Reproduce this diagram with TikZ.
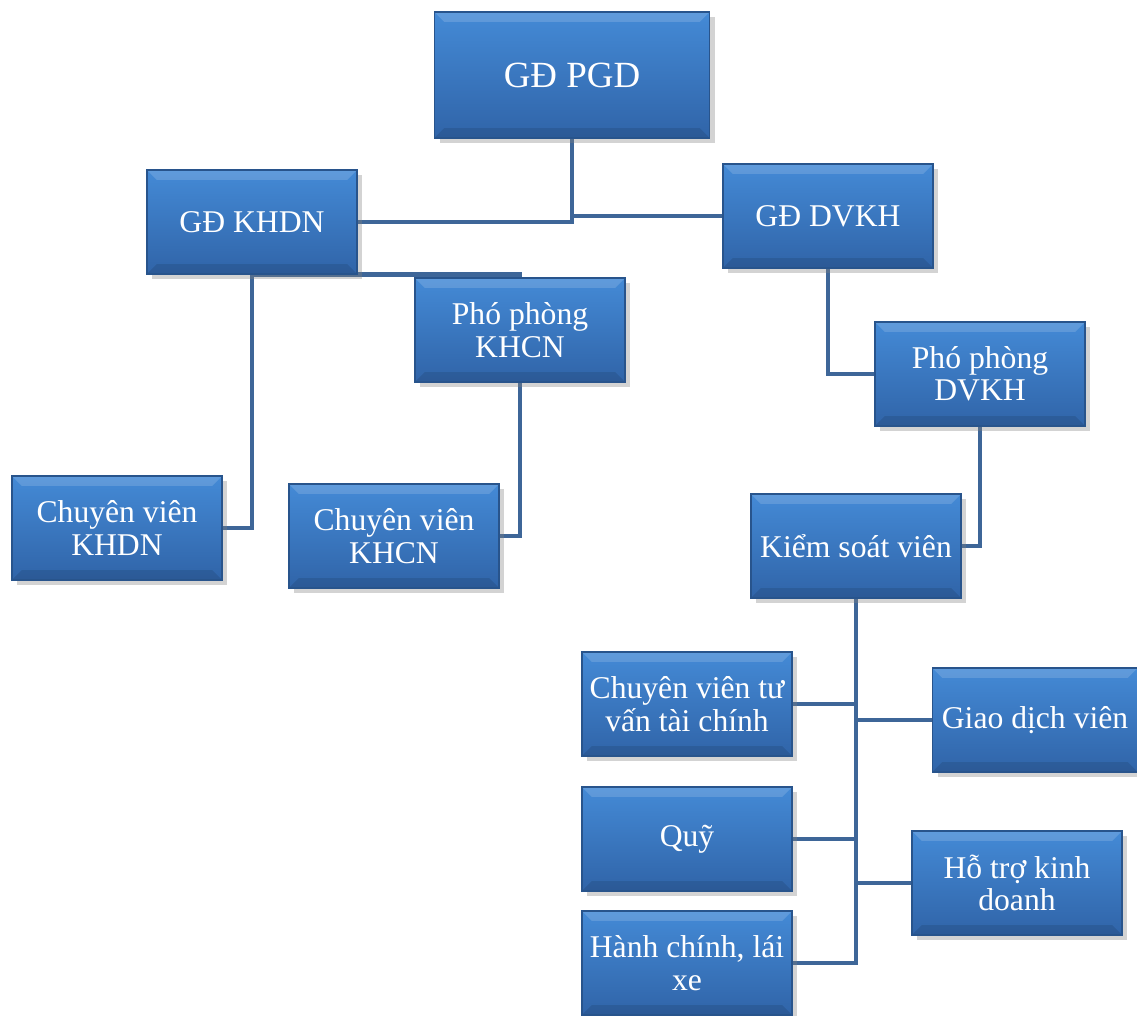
\documentclass[tikz,border=0pt]{standalone}
\usepackage{fontspec}
\setmainfont{Liberation Serif}
\usetikzlibrary{positioning, shadows, backgrounds}
\definecolor{boxtop}{RGB}{68,138,214}
\definecolor{boxbot}{RGB}{48,100,168}
\definecolor{boxedge}{RGB}{40,84,140}
\definecolor{linkblue}{RGB}{62,102,152}

\tikzset{
  unit/.style={rectangle, draw=boxedge, line width=0.4pt, top color=boxtop, bottom color=boxbot,
    minimum width=2.1cm, minimum height=1.04cm, inner sep=1pt, align=center, text=white,
    font=\fontsize{9}{9.2}\selectfont,
    drop shadow={opacity=0.35, shadow xshift=1.5pt, shadow yshift=-1.5pt},
    path picture={
      % bevel: light top band, dark bottom band
      \fill[white, opacity=0.15] (path picture bounding box.north west) -- (path picture bounding box.north east)
        -- ([xshift=-1mm, yshift=-1mm]path picture bounding box.north east)
        -- ([xshift=1mm, yshift=-1mm]path picture bounding box.north west) -- cycle;
      \fill[black, opacity=0.1] (path picture bounding box.south west) -- (path picture bounding box.south east)
        -- ([xshift=-1mm, yshift=1mm]path picture bounding box.south east)
        -- ([xshift=1mm, yshift=1mm]path picture bounding box.south west) -- cycle;
    }},
  link/.style={draw=linkblue, line width=1.4pt}
}

\begin{document}
\begin{tikzpicture}[x=0.01cm, y=-0.01cm]
    \useasboundingbox (0,0) rectangle (1137,1016);
    % top level
    \node[unit, minimum width=2.75cm, minimum height=1.26cm, font=\fontsize{10.5}{11}\selectfont] (pgd) at (572,75) {GĐ PGD};
    \node[unit] (khdn) at (252,222) {GĐ KHDN};
    \node[unit] (dvkh) at (828,216) {GĐ DVKH};
    % second level
    \node[unit] (ppkhcn) at (520,330) {Phó phòng\\KHCN};
    \node[unit] (ppdvkh) at (980,374) {Phó phòng\\DVKH};
    \node[unit] (cvkhdn) at (117,528) {Chuyên viên\\KHDN};
    \node[unit] (cvkhcn) at (394,536) {Chuyên viên\\KHCN};
    \node[unit] (ksv) at (856,546) {Kiểm soát viên};
    % staff under ksv
    \node[unit] (cvtv) at (687,704) {Chuyên viên tư\\vấn tài chính};
    \node[unit, minimum width=2.05cm] (gdv) at (1035,720) {Giao dịch viên};
    \node[unit] (quy) at (687,839) {Quỹ};
    \node[unit] (htkd) at (1017,883) {Hỗ trợ kinh\\doanh};
    \node[unit] (hc) at (687,963) {Hành chính, lái\\xe};

    % connectors
    \begin{scope}[on background layer]
      \draw[link] (pgd.south) |- (khdn.east);
      \draw[link] (pgd.south) |- (dvkh.west);
      \draw[link] (khdn.south) -| (ppkhcn.north);
      \draw[link] (khdn.south) |- (cvkhdn.east);
      \draw[link] (ppkhcn.south) |- (cvkhcn.east);
      \draw[link] (dvkh.south) |- (ppdvkh.west);
      \draw[link] (ppdvkh.south) |- (ksv.east);
      \foreach \n/\s in {cvtv/east, gdv/west, quy/east, htkd/west, hc/east} {
        \draw[link] (ksv.south) |- (\n.\s);
      }
    \end{scope}
  \end{tikzpicture}
\end{document}
